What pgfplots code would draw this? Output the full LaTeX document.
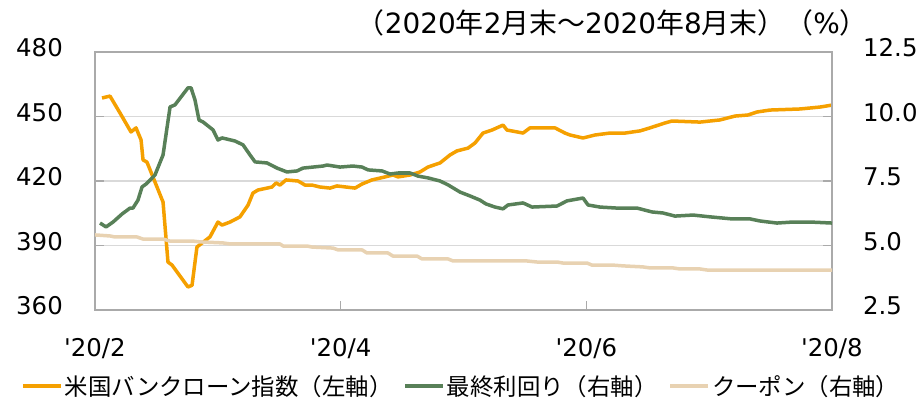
\documentclass[border=0pt]{standalone}
\usepackage{fontspec}
\setmainfont{DejaVu Sans}
\newfontfamily\cjk{Noto Sans CJK JP}
\newfontfamily\dv{DejaVu Sans}
\usepackage{pgfplots}
\pgfplotsset{compat=1.18}
\definecolor{cOr}{RGB}{245,160,0}
\definecolor{cGr}{RGB}{88,128,88}
\definecolor{cBe}{RGB}{232,210,178}
\definecolor{cFr}{RGB}{170,170,170}
\definecolor{cGd}{RGB}{217,217,217}
\begin{document}
\begin{tikzpicture}
\path[use as bounding box] (0,0) rectangle (924bp,400bp);
\begin{axis}[
  at={(95bp,90bp)}, anchor=south west, scale only axis,
  width=737bp, height=258bp,
  xmin=0, xmax=6, ymin=360, ymax=480,
  xtick={0,2,4,6},
  xticklabels={{\dv '20/2},{\dv '20/4},{\dv '20/6},{\dv '20/8}},
  ytick={360,390,420,450,480},
  /pgf/number format/assume math mode=true,
  ymajorgrids, grid style={cGd, line width=1.2pt},
  axis line style={cFr, line width=1.2pt},
  tick style={cFr, line width=1.2pt}, major tick length=9bp, tick align=inside,
  xtick pos=bottom, ytick pos=left,
  font=\fontsize{24.5}{28}\selectfont,
  xticklabel style={anchor=north, inner sep=0pt, yshift=-28bp},
  yticklabel style={anchor=east, inner sep=0pt, xshift=-32bp, yshift=4bp},
  legend columns=3,
  legend style={at={(0.497,-0.295)}, anchor=center, draw=none, fill=none,
    font=\cjk\fontsize{23.5}{26}\selectfont,
    /tikz/every even column/.append style={column sep=9bp},
    /tikz/every odd column/.append style={column sep=0bp}},
  legend image code/.code={\draw[#1] (0bp,0bp) -- (38bp,0bp);},
  clip=false,
]
\addplot[cOr, line width=3.5bp, line join=round] coordinates {
(0.057,458.6)(0.122,459.5)(0.204,451.6)(0.293,442.8)(0.334,444.7)(0.375,439.1)(0.391,429.8)(0.423,428.8)(0.554,410.2)(0.594,382.3)(0.627,380.9)(0.757,370.7)(0.790,371.5)(0.830,389.3)(0.936,394.0)(1.001,400.9)(1.034,399.5)(1.099,400.9)(1.180,403.3)(1.246,408.8)(1.286,414.4)(1.327,415.8)(1.441,417.2)(1.474,419.1)(1.506,418.1)(1.555,420.5)(1.653,420.0)(1.710,418.1)(1.767,418.1)(1.832,417.2)(1.913,416.7)(1.970,417.7)(2.117,416.7)(2.174,418.6)(2.255,420.5)(2.361,421.9)(2.426,422.8)(2.467,421.9)(2.565,422.8)(2.646,424.2)(2.711,426.5)(2.809,428.4)(2.890,432.1)(2.947,434.0)(3.037,435.3)(3.094,437.7)(3.159,442.3)(3.232,443.7)(3.322,446.0)(3.354,443.7)(3.485,442.3)(3.541,444.7)(3.745,444.7)(3.826,442.3)(3.867,441.4)(3.973,440.0)(4.071,441.4)(4.193,442.3)(4.315,442.3)(4.437,443.3)(4.518,444.7)(4.641,447.0)(4.698,447.9)(4.926,447.4)(5.088,448.4)(5.210,450.2)(5.316,450.7)(5.390,452.1)(5.495,453.0)(5.740,453.5)(5.903,454.4)(6.0,455.3)
};
\addlegendentry{米国バンクローン指数（左軸）}
\addlegendimage{cGr, line width=3.5bp}
\addlegendentry{最終利回り（右軸）}
\addlegendimage{cBe, line width=3.5bp}
\addlegendentry{クーポン（右軸）}
\end{axis}
\begin{axis}[
  at={(95bp,90bp)}, anchor=south west, scale only axis,
  width=737bp, height=258bp,
  xmin=0, xmax=6, ymin=2.5, ymax=12.5,
  axis x line=none, axis y line*=right,
  ytick={2.5,5,7.5,10,12.5},
  /pgf/number format/assume math mode=true,
  yticklabel={\pgfmathprintnumber[fixed,fixed zerofill,precision=1]{\tick}},
  axis line style={cFr, line width=1.2pt},
  tick style={cFr, line width=1.2pt}, major tick length=9bp, tick align=inside,
  font=\fontsize{24.5}{28}\selectfont,
  yticklabel style={anchor=west, inner sep=0pt, xshift=31bp, yshift=4bp},
  clip=false,
]
\addplot[cBe, line width=3.5bp, line join=round] coordinates {
(0,5.41)(0.122,5.37)(0.163,5.33)(0.342,5.33)(0.391,5.25)(0.554,5.25)(0.611,5.17)(0.798,5.17)(0.855,5.14)(1.042,5.10)(1.099,5.06)(1.506,5.06)(1.531,4.98)(1.726,4.98)(1.767,4.94)(1.938,4.90)(1.978,4.83)(2.174,4.83)(2.214,4.71)(2.385,4.71)(2.426,4.59)(2.622,4.59)(2.662,4.48)(2.874,4.48)(2.915,4.40)(3.517,4.40)(3.598,4.36)(3.761,4.36)(3.810,4.32)(4.006,4.32)(4.046,4.24)(4.217,4.24)(4.299,4.21)(4.461,4.17)(4.518,4.13)(4.706,4.13)(4.763,4.09)(4.926,4.09)(4.982,4.05)(6.0,4.05)
};
\addplot[cGr, line width=3.5bp, line join=round] coordinates {
(0.041,5.87)(0.090,5.72)(0.147,5.91)(0.220,6.22)(0.285,6.45)(0.309,6.45)(0.350,6.76)(0.383,7.27)(0.415,7.38)(0.488,7.73)(0.554,8.51)(0.611,10.37)(0.651,10.45)(0.757,11.11)(0.782,11.11)(0.814,10.64)(0.847,9.86)(0.879,9.79)(0.961,9.48)(1.001,9.09)(1.034,9.17)(1.140,9.05)(1.205,8.90)(1.262,8.51)(1.303,8.24)(1.400,8.20)(1.433,8.12)(1.482,8.00)(1.563,7.85)(1.645,7.89)(1.693,8.00)(1.856,8.08)(1.889,8.12)(1.995,8.04)(2.100,8.08)(2.174,8.04)(2.223,7.93)(2.337,7.89)(2.402,7.77)(2.467,7.81)(2.565,7.81)(2.630,7.69)(2.711,7.62)(2.809,7.50)(2.874,7.35)(2.972,7.07)(3.053,6.92)(3.134,6.76)(3.183,6.61)(3.257,6.49)(3.322,6.42)(3.362,6.57)(3.485,6.65)(3.558,6.49)(3.761,6.53)(3.843,6.73)(3.973,6.84)(4.014,6.57)(4.111,6.49)(4.250,6.45)(4.413,6.45)(4.535,6.30)(4.624,6.26)(4.722,6.14)(4.869,6.18)(5.007,6.11)(5.186,6.03)(5.333,6.03)(5.414,5.95)(5.552,5.87)(5.683,5.91)(5.821,5.91)(6.0,5.87)
};
\end{axis}
\node[anchor=east, inner sep=0pt, font=\fontsize{28}{32}\selectfont] at (868bp,377bp)
  {{\cjk （}2020{\cjk 年}2{\cjk 月末～}2020{\cjk 年}8{\cjk 月末）（}\%{\cjk ）}};
\end{tikzpicture}
\end{document}
